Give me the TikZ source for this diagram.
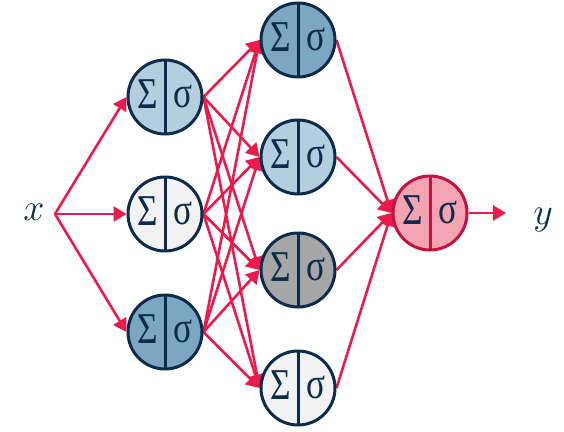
\RequirePackage{fix-cm}
\documentclass[tikz,border=0pt]{standalone}
\usepackage{fontspec}
\newfontfamily\greekface{Liberation Serif}
\usetikzlibrary{arrows.meta,backgrounds}
\definecolor{navy}{HTML}{0D2B4A}
\definecolor{paleblue}{HTML}{B3CEDF}
\definecolor{midblue}{HTML}{7BA7C3}
\definecolor{midgrey}{HTML}{A6A6A6}
\definecolor{offwhite}{HTML}{F2F2F2}
\definecolor{outpink}{HTML}{F4A3B3}
\definecolor{outrim}{HTML}{C0143C}
\definecolor{wire}{HTML}{EB1A4B}
\tikzset{
  neuron/.style={circle, minimum size=74pt, inner sep=0pt, draw=#1, line width=3pt,
    path picture={\draw[#1, line width=3pt] (path picture bounding box.north) -- (path picture bounding box.south);}},
  neuron/.default=navy,
  glyph/.style={text=navy, inner sep=0pt, xscale=0.8, transform shape,
    font=\greekface\fontsize{44}{48}\selectfont},
  wirearrow/.style={draw=wire, line width=2.6pt, -{Triangle[length=13pt,width=15pt]}},
  varlabel/.style={text=navy, inner sep=0pt, font=\fontsize{38}{42}\selectfont}
}
% a neuron: name, position, fill, rim colour
\newcommand{\unit}[4]{%
  \node[neuron=#4, fill=#3] (#1) at #2 {};
  \node[glyph] (#1s) at ([xshift=-17pt,yshift=3pt]#1.center) {Σ};
  \node[glyph] (#1a) at ([xshift=18pt,yshift=1pt]#1.center) {σ};
}
\begin{document}
\begin{tikzpicture}[x=1pt,y=-1pt]
\useasboundingbox (0,0) rectangle (564,431);
% input and output labels
\node[varlabel] (xl) at (34,212) {$x$};
\node[varlabel] (yl) at (543,220) {$y$};
\coordinate (xs) at (55,214);
\coordinate (ye) at (506,213);
% hidden layer 1
\unit{a1}{(165,97)}{paleblue}{navy}
\unit{a2}{(165,214)}{offwhite}{navy}
\unit{a3}{(165,332)}{midblue}{navy}
% hidden layer 2
\unit{b1}{(298,40)}{midblue}{navy}
\unit{b2}{(298,157)}{paleblue}{navy}
\unit{b3}{(298,270)}{midgrey}{navy}
\unit{b4}{(298,388)}{offwhite}{navy}
% output unit
\unit{out}{(430,213)}{outpink}{outrim}
% connections, kept behind the units
\begin{scope}[on background layer]
\foreach \t in {a1,a2,a3}
  \draw[wirearrow] (xs) -- (\t.west);
\foreach \s in {a1,a2,a3}
  \foreach \t in {b1,b2,b3,b4}
    \draw[wirearrow] (\s.east) -- (\t.west);
\foreach \s in {b1,b2,b3,b4}
  \draw[wirearrow] (\s.east) -- (out.west);
\draw[wirearrow] (out.east) -- (ye);
\end{scope}
\end{tikzpicture}
\end{document}
